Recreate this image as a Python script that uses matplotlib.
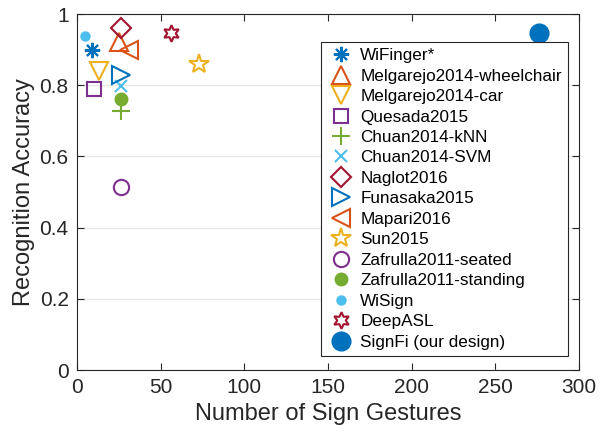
import matplotlib.pyplot as plt

plt.rcParams['font.family'] = ['Liberation Sans', 'DejaVu Sans']

# -----------------------------
# Data: sign-recognition systems
# -----------------------------
methods = ["WiFinger*", "Melgarejo2014-wheelchair", "Melgarejo2014-car", "Quesada2015",
           "Chuan2014-kNN", "Chuan2014-SVM", "Naglot2016", "Funasaka2015", "Mapari2016",
           "Sun2015", "Zafrulla2011-seated", "Zafrulla2011-standing", "WiSign", "DeepASL",
           "SignFi (our design)"]
num_gestures = [9, 25, 13, 10, 26, 26, 26, 26, 31, 73, 26, 26, 5, 56, 276]
accuracy = [0.90, 0.92, 0.84, 0.79, 0.728, 0.798, 0.96, 0.83, 0.90, 0.86, 0.515, 0.762,
            0.937, 0.947, 0.948]

# MATLAB default palette
blue = '#0072BD'
orange = '#D95319'
yellow = '#EDB120'
purple = '#7E2F8E'
green = '#77AC30'
lightblue = '#4DBEEE'
darkred = '#A2142F'

# marker, colour, size, filled
styles = [
    ((8, 2, 0), blue, 11, False),
    ('^', orange, 13, False),
    ('v', yellow, 13, False),
    ('s', purple, 10, False),
    ('+', green, 13, False),
    ('x', lightblue, 9, False),
    ('D', darkred, 10, False),
    ('>', blue, 13, False),
    ('<', orange, 13, False),
    ('*', yellow, 15, False),
    ('o', purple, 11, False),
    ('o', green, 8.5, True),
    ('o', lightblue, 6, True),
    ((6, 1, 0), darkred, 12, False),
    ('o', blue, 13, True),
]

fig = plt.figure(figsize=(6.02, 4.32), dpi=100)
ax = fig.add_axes([77 / 602, 62 / 432, 502 / 602, 356 / 432])

for name, xg, acc, (mk, col, ms, filled) in zip(methods, num_gestures, accuracy, styles):
    ax.plot(xg, acc, linestyle='none', marker=mk, markersize=ms,
            markeredgecolor=col, markerfacecolor=col if filled else 'none',
            markeredgewidth=1.5, label=name, clip_on=False, zorder=3)

ax.set_xlim(0, 300)
ax.set_ylim(0, 1)
ax.set_xticks(range(0, 301, 50))
ax.set_yticks([0, 0.2, 0.4, 0.6, 0.8, 1])
ax.set_yticklabels(['0', '0.2', '0.4', '0.6', '0.8', '1'])
ax.yaxis.grid(True, color='#e6e6e6', linewidth=1)
ax.set_axisbelow(True)
ax.tick_params(direction='in', top=True, right=True, labelsize=15,
               length=5, width=0.8, colors='#262626', pad=6)
for sp in ax.spines.values():
    sp.set_color('#262626')
    sp.set_linewidth(0.8)

ax.set_xlabel("Number of Sign Gestures", fontsize=17, color='#262626', labelpad=4)
ax.set_ylabel("Recognition Accuracy", fontsize=17, color='#262626', labelpad=3)

leg = ax.legend(loc='upper right', bbox_to_anchor=(0.978, 0.921), fontsize=12.3,
                frameon=True, fancybox=False, framealpha=1, edgecolor='#262626',
                labelspacing=0.32, handletextpad=0.28, borderpad=0.35,
                handlelength=1.66, borderaxespad=0)
leg.get_frame().set_linewidth(0.8)

fig.savefig("out.png", dpi=100)
